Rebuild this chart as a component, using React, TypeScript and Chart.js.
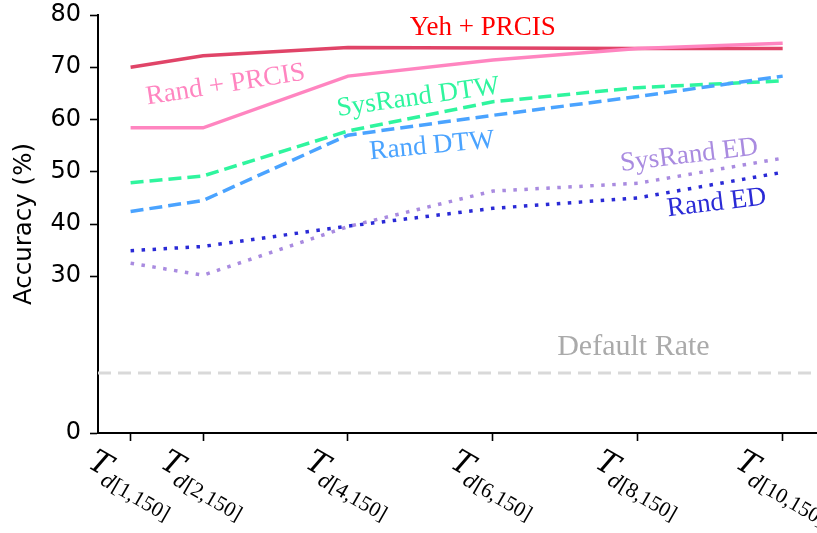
import React, { useEffect, useRef } from "react";
import { Chart, registerables } from "chart.js";

Chart.register(...registerables);

// Number of dynamic-time segments d used for each template set
const X_VALUES = [1, 2, 4, 6, 8, 10];
const X_TICK_SUB = ["[1,150]", "[2,150]", "[4,150]", "[6,150]", "[8,150]", "[10,150]"];
const Y_TICKS = [0, 30, 40, 50, 60, 70, 80];

// Accuracy (%) per method
const YEH_PRCIS = [70.0, 72.2, 73.8, 73.7, 73.6, 73.6];
const RAND_PRCIS = [58.4, 58.4, 68.3, 71.4, 73.6, 74.6];
const SYSRAND_DTW = [47.9, 49.2, 57.8, 63.4, 66.1, 67.4];
const RAND_DTW = [42.4, 44.5, 57.0, 60.8, 64.4, 68.3];
const SYSRAND_ED = [32.5, 30.2, 39.5, 46.3, 47.8, 52.6];
const RAND_ED = [34.9, 35.7, 39.6, 43.0, 45.0, 49.9];
const DEFAULT_RATE = 11.5;

const X_MIN = 0.55;
const X_MAX = 10.46;

// In-plot method labels, anchored in data coordinates
const LABELS = [
  { text: "Yeh + PRCIS", x: 5.86, y: 77.5, rot: 0, color: "#ff0000", size: 27 },
  { text: "Rand + PRCIS", x: 2.31, y: 66.6, rot: -9, color: "#ff85c0", size: 27 },
  { text: "SysRand DTW", x: 4.97, y: 64.2, rot: -8, color: "#2ff59e", size: 27 },
  { text: "Rand DTW", x: 5.16, y: 54.9, rot: -5.5, color: "#4aa3ff", size: 27 },
  { text: "SysRand ED", x: 8.71, y: 53.1, rot: -7, color: "#a98be0", size: 27 },
  { text: "Rand ED", x: 9.09, y: 44.0, rot: -7, color: "#2a2ad6", size: 27 },
  { text: "Default Rate", x: 7.94, y: 16.5, rot: 0, color: "#aaaaaa", size: 30 },
];

const pts = (vals: number[]) => X_VALUES.map((x, i) => ({ x, y: vals[i] }));

const labelPlugin = {
  id: "methodLabels",
  afterDraw(chart: any) {
    const { ctx, scales } = chart;
    const xs = scales.x;
    const ys = scales.y;
    ctx.save();
    // method annotations
    for (const l of LABELS) {
      const px = xs.getPixelForValue(l.x);
      const py = ys.getPixelForValue(l.y);
      ctx.save();
      ctx.translate(px, py);
      ctx.rotate((l.rot * Math.PI) / 180);
      ctx.font = `${l.size}px "Liberation Serif", "Times New Roman", serif`;
      ctx.fillStyle = l.color;
      ctx.textAlign = "center";
      ctx.textBaseline = "middle";
      ctx.fillText(l.text, 0, 0);
      ctx.restore();
    }

    // rotated x tick labels: T with subscript d[k,150]
    const mainSize = 31;
    const subSize = 21.5;
    const subDrop = 8;
    const mainFont = `italic ${mainSize}px "DejaVu Serif", serif`;
    const dFont = 'italic 20px "DejaVu Serif", serif';
    const restFont = `${subSize}px "Liberation Serif", serif`;
    const theta = (30 * Math.PI) / 180;
    const cos = Math.cos(theta);
    const sin = Math.sin(theta);
    const topY = xs.top + 14;
    X_VALUES.forEach((v, i) => {
      ctx.font = mainFont;
      const wT = ctx.measureText("T").width;
      ctx.font = dFont;
      const wD = ctx.measureText("d").width;
      ctx.font = restFont;
      const wR = ctx.measureText(X_TICK_SUB[i]).width;
      const L = wT + wD + wR;
      const top = -0.74 * mainSize;
      const bottom = subDrop + 0.22 * subSize;
      const corners = [
        [0, top],
        [L, top],
        [0, bottom],
        [L, bottom],
      ].map(([a, b]) => [a * cos - b * sin, a * sin + b * cos]);
      const minX = Math.min(...corners.map((c) => c[0]));
      const maxX = Math.max(...corners.map((c) => c[0]));
      const minY = Math.min(...corners.map((c) => c[1]));
      const cx = xs.getPixelForValue(v);
      const ox = cx - (minX + maxX) / 2;
      const oy = topY - minY;
      ctx.save();
      ctx.translate(ox, oy);
      ctx.rotate(theta);
      ctx.fillStyle = "#000";
      ctx.textAlign = "left";
      ctx.textBaseline = "alphabetic";
      ctx.font = mainFont;
      ctx.fillText("T", 0, 0);
      ctx.font = dFont;
      ctx.fillText("d", wT - 1, subDrop);
      ctx.font = restFont;
      ctx.fillText(X_TICK_SUB[i], wT - 1 + wD, subDrop);
      ctx.restore();
    });
    ctx.restore();
  },
};

export default function App() {
  const canvasRef = useRef<HTMLCanvasElement | null>(null);

  useEffect(() => {
    const canvas = canvasRef.current;
    if (!canvas) return;
    const common = {
      pointRadius: 0,
      tension: 0,
      fill: false,
      borderWidth: 3.5,
      borderCapStyle: "butt" as const,
    };
    const dashed = [13, 6];
    const dotted = [3.5, 7.5];
    const chart = new Chart(canvas, {
      type: "line",
      data: {
        datasets: [
          {
            ...common,
            label: "Default Rate",
            data: [
              { x: X_MIN, y: DEFAULT_RATE },
              { x: X_MAX, y: DEFAULT_RATE },
            ],
            borderColor: "#d9d9d9",
            borderWidth: 3,
            borderDash: [13, 7],
          },
          { ...common, label: "Rand ED", data: pts(RAND_ED), borderColor: "#2a2ad6", borderDash: dotted },
          { ...common, label: "SysRand ED", data: pts(SYSRAND_ED), borderColor: "#a98be0", borderDash: dotted },
          { ...common, label: "Rand DTW", data: pts(RAND_DTW), borderColor: "#4aa3ff", borderDash: dashed },
          { ...common, label: "SysRand DTW", data: pts(SYSRAND_DTW), borderColor: "#2ff59e", borderDash: dashed },
          { ...common, label: "Rand + PRCIS", data: pts(RAND_PRCIS), borderColor: "#ff85c0" },
          { ...common, label: "Yeh + PRCIS", data: pts(YEH_PRCIS), borderColor: "#e04468" },
        ],
      },
      options: {
        animation: false,
        responsive: false,
        maintainAspectRatio: false,
        layout: { padding: { top: 15, right: 1, left: 0, bottom: 0 } },
        plugins: {
          legend: { display: false },
          tooltip: { enabled: false },
        },
        scales: {
          x: {
            type: "linear",
            min: X_MIN,
            max: X_MAX,
            afterBuildTicks: (s: any) => {
              s.ticks = X_VALUES.map((value) => ({ value }));
            },
            afterFit: (s: any) => {
              s.height = 100;
              s.paddingLeft = 0;
              s.paddingRight = 0;
            },
            grid: {
              display: true,
              drawOnChartArea: false,
              drawTicks: true,
              tickLength: 8,
              tickColor: "#000",
              tickWidth: 1.6,
            },
            border: { display: true, color: "#000", width: 2 },
            ticks: { display: false },
          },
          y: {
            type: "linear",
            min: 0,
            max: 80,
            afterBuildTicks: (s: any) => {
              s.ticks = Y_TICKS.map((value) => ({ value }));
            },
            afterFit: (s: any) => {
              s.width = 98;
              s.paddingTop = 0;
              s.paddingBottom = 0;
            },
            grid: {
              display: true,
              drawOnChartArea: false,
              drawTicks: true,
              tickLength: 8,
              tickColor: "#000",
              tickWidth: 1.6,
            },
            border: { display: true, color: "#000", width: 2 },
            ticks: {
              color: "#000",
              padding: 9,
              font: { family: '"DejaVu Sans", sans-serif', size: 24 },
            },
            title: {
              display: true,
              text: "Accuracy (%)",
              color: "#000",
              font: { family: '"DejaVu Sans", sans-serif', size: 24.5 },
              padding: { top: 10, bottom: 0 },
            },
          },
        },
      },
      plugins: [labelPlugin],
    });
    return () => chart.destroy();
  }, []);

  return (
    <div style={{ position: "fixed", left: 0, top: 0, width: 817, height: 533, background: "#fff" }}>
      <canvas ref={canvasRef} width={817} height={533} style={{ display: "block" }} />
    </div>
  );
}
